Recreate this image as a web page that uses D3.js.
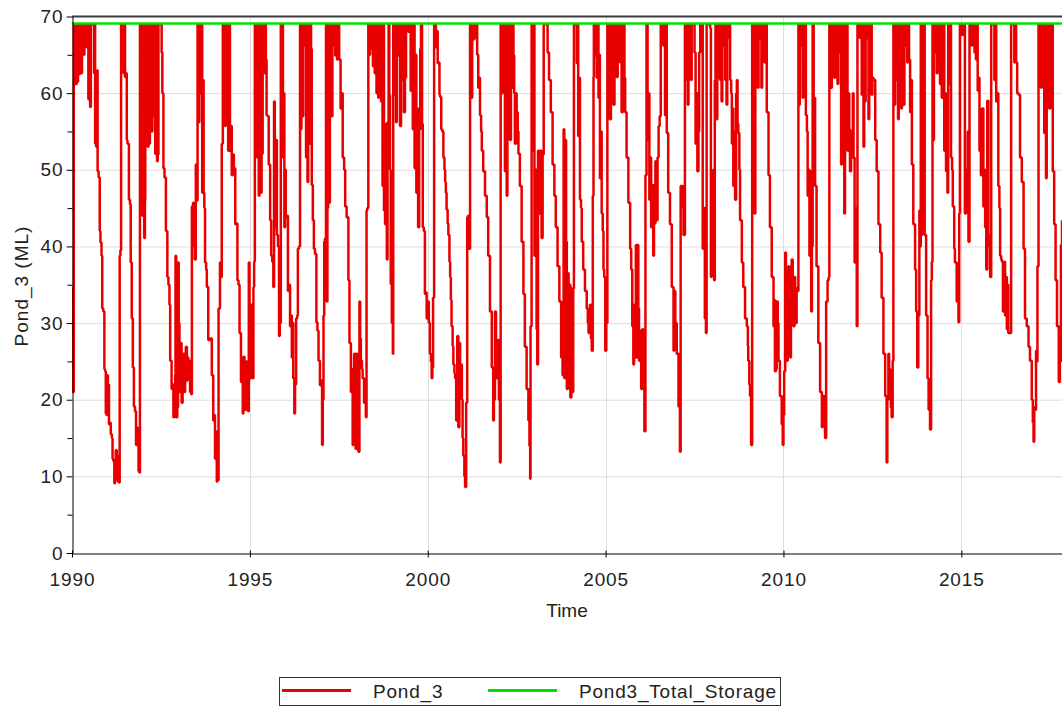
<!DOCTYPE html>
<html>
<head>
<meta charset="utf-8">
<script src="https://cdn.jsdelivr.net/npm/d3@7"></script>
<style>
    body { margin: 0; background: #fff; }
    text { font-family: "Liberation Sans", Arial, sans-serif; fill: #222; }
</style>
</head>
<body>
<svg id="chart" width="1062" height="709"></svg>
<script>
    // Pond_3 storage (ML), [decimal year, value]
    var pond3Block1 = [ // 1990 - 1992
        [1990.00,34.5],[1990.01,29.8],[1990.02,21.0],[1990.04,21.0],[1990.05,69],
        [1990.07,61.2],[1990.09,69],[1990.11,61.2],[1990.13,69],[1990.15,61.5],[1990.17,69],
        [1990.19,67.5],[1990.21,62.5],[1990.23,69],[1990.25,64.9],[1990.27,62.6],[1990.28,69],
        [1990.31,69],[1990.33,65.0],[1990.35,69],[1990.38,69],[1990.41,66.0],[1990.43,69],
        [1990.46,59.2],[1990.48,69],[1990.51,58.2],[1990.53,69],[1990.57,69],
        [1990.60,69],[1990.62,62.6],[1990.64,69],[1990.65,53.4],[1990.68,53.0],[1990.71,63.0],[1990.72,49.8],
        [1990.75,49.0],[1990.78,42.0],[1990.80,40.5],[1990.83,38.8],[1990.85,31.9],[1990.88,31.5],[1990.91,24.0],
        [1990.93,23.7],[1990.95,18.2],[1990.97,18.0],[1990.99,23.2],[1991.01,22.0],[1991.04,16.8],[1991.07,17.0],
        [1991.09,15.5],[1991.12,15.0],[1991.14,12.3],[1991.16,12.0],[1991.19,9.1],[1991.21,9.5],[1991.23,13.4],
        [1991.26,12.7],[1991.29,9.3],[1991.32,9.2],[1991.34,38.8],[1991.36,39.5],[1991.38,69],
        [1991.40,66.2],[1991.42,69],[1991.45,62.6],[1991.47,69],[1991.49,62.1],[1991.51,62.6],[1991.54,53.9],
        [1991.56,53.4],[1991.60,46.1],[1991.63,45.5],[1991.65,37.9],[1991.68,30.6],[1991.71,24.2],[1991.74,19.1],
        [1991.77,18.5],[1991.80,14.1],[1991.82,16.4],[1991.84,15.5],[1991.87,10.7],[1991.89,10.5],[1991.91,69],
        [1991.94,44.3],[1991.96,69],[1991.98,44.0],[1992.00,69],[1992.03,41.1],[1992.05,46.0],[1992.06,69],
        [1992.09,58.0],[1992.11,69],[1992.13,53.0],[1992.15,69],[1992.17,53.4],[1992.19,59.0],[1992.21,69],
        [1992.24,55.0],[1992.26,69],[1992.28,58.5],[1992.30,57.0],[1992.32,69],[1992.34,52.1],[1992.36,69],
        [1992.39,51.1],[1992.41,52.0],[1992.43,69],[1992.47,69],[1992.50,69],
        [1992.52,65.3],[1992.54,60.0],[1992.57,50.2],[1992.60,49.0],[1992.64,42.0],[1992.68,36.0],[1992.71,35.0],
        [1992.74,32.4],[1992.76,25.1],[1992.80,21.4],[1992.83,22.0],[1992.85,17.7],[1992.88,18.5],[1992.90,23.2],
        [1992.91,38.8],[1992.93,17.7],[1992.96,19.0],[1992.98,37.9]
    ];
    var pond3Block2 = [ // 1993 - 1995
        [1993.00,30.0],[1993.02,21.0],[1993.04,26.0],[1993.06,27.4],[1993.08,19.6],[1993.11,22.0],[1993.13,26.0],
        [1993.16,21.0],[1993.18,23.7],[1993.20,26.9],[1993.23,22.5],[1993.25,25.5],[1993.27,22.8],[1993.30,25.1],
        [1993.32,21.0],[1993.35,20.7],[1993.37,45.2],[1993.40,45.7],[1993.42,40.0],[1993.45,38.3],[1993.48,50.7],
        [1993.50,46.0],[1993.53,69],
        [1993.56,56.2],[1993.58,69],[1993.61,60.0],[1993.63,69],[1993.66,47.0],[1993.68,61.7],[1993.70,47.0],
        [1993.72,45.0],[1993.74,37.9],[1993.77,37.0],[1993.79,34.7],[1993.83,27.8],[1993.88,28.0],[1993.93,23.2],
        [1993.97,17.3],[1993.99,18.0],[1994.02,12.3],[1994.04,12.7],[1994.07,9.3],[1994.08,15.9],[1994.10,9.5],
        [1994.12,31.9],[1994.16,37.9],[1994.18,36.0],[1994.21,53.4],[1994.24,69],
        [1994.26,61.2],[1994.28,69],[1994.30,55.7],[1994.32,69],[1994.34,57.0],[1994.36,69],[1994.39,52.5],
        [1994.41,69],[1994.44,52.5],[1994.46,55.7],[1994.49,49.3],[1994.52,52.0],[1994.55,50.2],[1994.59,42.9],
        [1994.62,43.0],[1994.65,35.6],[1994.68,35.0],[1994.71,28.7],[1994.75,22.3],[1994.78,25.5],[1994.80,18.2],
        [1994.82,25.6],[1994.85,20.0],[1994.87,18.7],[1994.90,25.0],[1994.93,19.1],[1994.95,18.5],[1994.97,37.9],
        [1994.99,28.0],[1995.01,22.8],[1995.03,32.4],[1995.06,25.0],[1995.08,22.8],[1995.10,34.7],[1995.12,38.0],
        [1995.14,69],
        [1995.16,58.9],[1995.18,69],[1995.20,51.6],[1995.22,69],[1995.25,46.6],[1995.27,52.1],[1995.29,69],
        [1995.31,47.0],[1995.33,52.1],[1995.36,69],[1995.39,69],[1995.41,62.6],[1995.43,69],[1995.45,64.4],
        [1995.47,57.1],[1995.50,57.0],[1995.53,50.7],[1995.57,43.4],[1995.60,38.8],[1995.63,38.0],[1995.66,34.7],
        [1995.68,58.9],[1995.70,42.5],[1995.73,53.9],[1995.76,41.5],[1995.79,40.0],[1995.82,28.3],[1995.84,30.0],
        [1995.87,69]
    ];
    var pond3Block3 = [ // 1996 - 1999
        [1995.89,57.5],[1995.91,69],[1995.93,51.6],[1995.95,60.0],[1995.97,42.5],[1995.99,50.0],[1996.01,43.8],
        [1996.04,44.0],[1996.07,34.2],[1996.10,35.0],[1996.13,29.6],[1996.15,31.0],[1996.18,25.5],[1996.20,30.0],
        [1996.22,22.8],[1996.25,18.2],[1996.27,22.0],[1996.30,30.6],[1996.33,31.0],[1996.35,39.7],[1996.38,40.0],
        [1996.41,69],
        [1996.43,55.3],[1996.45,69],[1996.48,57.0],[1996.50,69],[1996.53,66.2],[1996.55,69],[1996.58,51.6],
        [1996.60,69],[1996.62,48.4],[1996.64,60.0],[1996.67,53.4],[1996.69,69],[1996.72,65.8],[1996.74,48.0],
        [1996.77,43.4],[1996.80,39.7],[1996.83,39.0],[1996.87,30.1],[1996.90,29.0],[1996.93,25.1],[1996.97,21.9],
        [1996.99,22.5],[1997.03,14.1],[1997.05,20.0],[1997.07,31.0],[1997.09,40.6],[1997.11,41.0],[1997.14,69],
        [1997.16,32.8],[1997.18,45.0],[1997.20,69],[1997.23,45.7],[1997.25,57.1],[1997.27,69],[1997.30,57.0],
        [1997.32,69],[1997.35,66.2],[1997.37,69],[1997.40,64.9],[1997.42,69],[1997.45,64.4],[1997.48,69],
        [1997.51,64.4],[1997.55,58.0],[1997.58,60.0],[1997.61,51.6],[1997.65,50.0],[1997.68,45.2],[1997.72,43.8],
        [1997.77,35.6],[1997.80,27.4],[1997.84,21.0],[1997.86,24.0],[1997.89,14.1],[1997.91,16.0],[1997.93,26.0],
        [1997.97,13.6],[1998.00,26.0],[1998.03,20.0],[1998.05,13.2],[1998.08,32.8],[1998.10,28.0],[1998.12,25.1],
        [1998.15,24.0],[1998.17,22.8],[1998.21,19.6],[1998.24,21.0],[1998.26,17.7],[1998.28,44.7],[1998.30,45.0],
        [1998.33,69],
        [1998.36,65.0],[1998.38,69],[1998.41,65.8],[1998.43,69],[1998.46,63.5],[1998.48,69],[1998.51,62.6],
        [1998.53,66.0],[1998.56,60.0],[1998.58,69],[1998.61,59.4],[1998.63,62.0],[1998.66,69],[1998.69,58.9],
        [1998.71,60.0],[1998.73,47.9],[1998.75,69],[1998.77,44.7],[1998.80,42.9],[1998.83,56.0],[1998.85,38.3],
        [1998.87,56.2],[1998.90,69],[1998.92,59.8],[1998.94,50.0],[1998.96,35.1],[1998.99,30.0],[1999.02,26.0],
        [1999.03,69],[1999.06,59.8],[1999.08,69],[1999.11,56.2],[1999.13,69],[1999.16,64.9],[1999.18,69]
    ];
    var pond3Block4 = [ // 1999 - 2002
        [1999.22,55.7],[1999.25,69],[1999.28,61.7],[1999.30,69],[1999.33,57.5],[1999.36,62.0],[1999.39,69],
        [1999.43,69],[1999.45,68.0],[1999.48,69],[1999.52,60.3],[1999.55,69],[1999.58,55.3],[1999.61,69],
        [1999.63,50.2],[1999.66,65.0],[1999.68,47.0],[1999.71,58.0],[1999.73,42.5],[1999.76,55.3],[1999.79,65.8],
        [1999.81,69],[1999.84,56.0],[1999.86,42.5],[1999.89,42.0],[1999.92,33.8],[1999.95,34.0],[1999.97,30.6],
        [2000.00,32.8],[2000.03,30.0],[2000.06,26.0],[2000.09,25.0],[2000.11,22.8],[2000.13,24.2],[2000.15,33.3],
        [2000.18,69],
        [2000.20,69],[2000.23,66.0],[2000.25,68.1],[2000.28,63.9],[2000.30,64.0],[2000.33,59.8],[2000.35,59.5],
        [2000.38,55.3],[2000.41,55.0],[2000.44,51.6],[2000.47,50.0],[2000.49,48.4],[2000.51,47.0],[2000.53,44.8],
        [2000.56,43.0],[2000.58,41.5],[2000.61,38.0],[2000.63,36.0],[2000.65,33.0],[2000.67,29.6],[2000.70,27.0],
        [2000.72,24.6],[2000.75,23.5],[2000.77,22.8],[2000.80,17.3],[2000.83,28.3],[2000.86,16.4],[2000.89,27.4],
        [2000.91,24.0],[2000.93,24.6],[2000.96,20.0],[2000.98,15.0],[2001.00,12.7],[2001.03,10.0],[2001.05,8.6],
        [2001.08,19.6],[2001.11,43.8],[2001.13,44.0],[2001.16,39.7],[2001.19,69],
        [2001.21,69],[2001.23,59.4],[2001.25,69],[2001.28,67.0],[2001.30,69],[2001.33,67.2],[2001.36,69],
        [2001.39,65.0],[2001.42,60.7],[2001.45,62.0],[2001.47,57.1],[2001.50,55.0],[2001.52,52.5],[2001.56,49.8],
        [2001.61,46.6],[2001.66,43.8],[2001.70,38.8],[2001.75,31.5],[2001.80,24.2],[2001.84,17.3],[2001.86,20.0],
        [2001.89,31.5],[2001.92,25.0],[2001.94,22.8],[2001.97,27.8],[2002.00,20.0],[2002.03,11.8],[2002.05,69],
        [2002.08,60.0],[2002.10,69],[2002.13,60.7],[2002.15,69],[2002.17,49.8],[2002.19,60.0],[2002.22,46.6],
        [2002.24,69],[2002.27,60.0],[2002.29,69],[2002.31,53.9],[2002.34,69],[2002.36,60.7],[2002.38,69],
        [2002.41,64.9],[2002.43,60.0],[2002.45,53.4],[2002.48,60.0],[2002.50,57.5],[2002.53,55.0],[2002.55,52.1],
        [2002.59,47.9],[2002.64,40.6],[2002.69,33.8],[2002.73,26.9],[2002.78,21.4],[2002.83,17.3],[2002.86,14.0],
        [2002.88,9.7],[2002.89,29.6],[2002.92,69]
    ];
    var pond3Block5 = [ // 2003 - 2006
        [2002.95,52.5],[2002.97,69],[2003.00,38.8],[2003.03,50.0],[2003.06,29.2],[2003.08,24.6],[2003.10,52.5],
        [2003.13,44.3],[2003.16,52.5],[2003.20,41.1],[2003.23,52.0],[2003.26,69],[2003.34,69],[2003.37,65.3],
        [2003.41,61.7],[2003.46,57.5],[2003.51,50.7],[2003.56,46.6],[2003.60,42.5],[2003.65,37.4],[2003.70,32.8],
        [2003.75,25.5],[2003.79,23.2],[2003.82,55.3],[2003.84,22.8],[2003.86,53.9],[2003.89,40.6],[2003.91,21.4],
        [2003.94,36.5],[2003.96,22.3],[2003.99,35.0],[2004.01,20.3],[2004.04,34.5],[2004.06,21.0],[2004.09,34.5],
        [2004.11,69],[2004.15,69],[2004.19,63.9],[2004.21,69],[2004.23,54.4],[2004.26,62.0],[2004.28,46.1],
        [2004.31,45.0],[2004.33,40.6],[2004.37,37.0],[2004.42,34.2],[2004.47,31.9],[2004.50,30.0],[2004.52,28.7],
        [2004.56,32.4],[2004.59,28.0],[2004.61,26.4],[2004.64,46.6],[2004.66,62.1],[2004.67,69],
        [2004.70,64.9],[2004.72,69],[2004.75,62.0],[2004.77,69],[2004.80,59.4],[2004.82,65.0],[2004.84,48.9],
        [2004.87,55.0],[2004.89,44.3],[2004.92,42.0],[2004.94,37.0],[2004.96,36.0],[2004.99,26.4],[2005.02,30.0],
        [2005.05,69],
        [2005.08,60.0],[2005.10,69],[2005.12,56.6],[2005.15,69],[2005.17,66.2],[2005.20,69],[2005.22,58.5],
        [2005.25,69],[2005.29,69],[2005.31,62.1],[2005.34,69],[2005.36,68.1],[2005.38,69],[2005.41,64.0],
        [2005.43,69],[2005.45,57.5],[2005.48,69],[2005.50,69],[2005.53,62.0],[2005.55,57.5],[2005.59,51.6],
        [2005.64,45.7],[2005.69,39.7],[2005.72,37.0],[2005.75,29.6],[2005.78,24.6],[2005.80,32.4],[2005.83,25.5],
        [2005.85,40.2],[2005.87,25.5],[2005.89,40.2],[2005.92,31.9],[2005.94,25.1],[2005.97,29.0],[2006.00,21.4],
        [2006.03,29.2],[2006.06,22.0],[2006.09,15.9],[2006.12,49.3],[2006.15,69]
    ];
    var pond3Block6 = [ // 2006 - 2009
        [2006.18,53.9],[2006.21,60.0],[2006.23,46.1],[2006.26,51.6],[2006.28,42.5],[2006.31,48.0],[2006.34,38.8],
        [2006.36,47.0],[2006.38,43.0],[2006.40,51.1],[2006.43,43.4],[2006.46,51.6],[2006.49,55.7],[2006.52,57.0],
        [2006.55,69],[2006.59,69],[2006.62,66.2],[2006.64,69],[2006.67,57.1],[2006.69,69],[2006.72,54.8],
        [2006.76,47.0],[2006.81,42.9],[2006.86,34.7],[2006.91,26.4],[2006.93,34.2],[2006.96,30.0],[2007.00,26.0],
        [2007.05,19.1],[2007.09,13.2],[2007.11,47.9],[2007.14,47.9],[2007.17,45.0],[2007.19,41.5],[2007.23,69],
        [2007.26,61.7],[2007.28,69],[2007.31,58.5],[2007.33,69],[2007.35,66.2],[2007.37,69],[2007.40,61.7],
        [2007.42,69],[2007.47,69],[2007.50,65.3],[2007.53,53.4],[2007.55,60.0],[2007.58,49.8],[2007.61,55.0],
        [2007.63,65.3],[2007.66,69],[2007.70,69],[2007.73,39.7],[2007.76,45.0],[2007.79,30.6],[2007.82,28.7],
        [2007.84,69],[2007.92,69],[2007.94,68.5],[2007.96,36.0],[2007.98,36.5],[2008.01,43.4],[2008.03,50.0],
        [2008.05,35.6],[2008.07,61.7],[2008.09,69],[2008.12,56.6],[2008.14,62.0],[2008.17,69],[2008.20,62.0],
        [2008.22,61.7],[2008.24,69],[2008.26,58.9],[2008.28,69],[2008.31,66.2],[2008.33,69],[2008.36,61.7],
        [2008.38,65.0],[2008.40,58.5],[2008.42,69],[2008.45,67.2],[2008.48,69],[2008.50,61.7],[2008.53,60.0],
        [2008.55,53.4],[2008.57,58.0],[2008.59,47.9],[2008.62,55.0],[2008.64,46.1],[2008.67,60.0],[2008.69,61.7],
        [2008.71,56.0],[2008.73,54.8],[2008.76,50.0],[2008.78,43.4],[2008.83,37.9],[2008.87,34.7],[2008.92,30.6],
        [2008.97,29.6],[2009.00,27.0],[2009.01,25.1],[2009.04,22.0],[2009.06,20.5],[2009.09,14.1],[2009.12,69]
    ];
    var pond3Block7 = [ // 2009 - 2012
        [2009.14,49.8],[2009.16,69],[2009.18,44.3],[2009.21,69],[2009.25,69],[2009.28,60.7],[2009.30,69],
        [2009.33,67.2],[2009.35,69],[2009.38,60.7],[2009.40,69],[2009.44,69],[2009.47,64.0],[2009.50,69],
        [2009.53,57.5],[2009.58,49.3],[2009.62,42.5],[2009.67,36.0],[2009.72,29.6],[2009.74,33.0],[2009.76,23.7],
        [2009.79,24.0],[2009.81,32.8],[2009.84,30.0],[2009.86,25.1],[2009.90,20.5],[2009.95,16.8],[2009.98,14.1],
        [2010.00,18.0],[2010.02,23.7],[2010.05,39.2],[2010.07,30.0],[2010.09,25.1],[2010.12,30.0],[2010.14,37.4],
        [2010.16,30.0],[2010.19,25.5],[2010.21,30.0],[2010.23,38.3],[2010.26,34.0],[2010.28,29.6],[2010.31,36.0],
        [2010.33,34.7],[2010.35,30.0],[2010.37,34.2],[2010.42,69],
        [2010.44,58.5],[2010.46,69],[2010.49,66.2],[2010.51,69],[2010.54,59.4],[2010.56,69],[2010.61,69],
        [2010.63,57.1],[2010.66,55.0],[2010.68,46.6],[2010.70,50.0],[2010.73,38.8],[2010.75,49.8],[2010.78,31.5],
        [2010.80,40.0],[2010.82,69],[2010.85,59.4],[2010.89,47.9],[2010.93,37.4],[2010.98,27.4],[2011.03,21.0],
        [2011.08,16.4],[2011.10,17.0],[2011.12,20.5],[2011.15,18.0],[2011.17,15.0],[2011.20,32.8],[2011.24,35.6],
        [2011.27,36.0],[2011.29,69],
        [2011.31,69],[2011.34,60.7],[2011.36,69],[2011.38,66.2],[2011.40,69],[2011.43,62.0],[2011.45,69],
        [2011.48,67.2],[2011.50,69],[2011.52,61.2],[2011.54,69],[2011.57,65.3],[2011.59,69],[2011.62,50.7],
        [2011.64,60.0],[2011.66,56.2],[2011.68,69],[2011.71,44.3],[2011.73,60.0],[2011.75,65.3],[2011.78,69],
        [2011.80,52.5],[2011.83,60.0],[2011.85,55.3],[2011.87,49.8],[2011.90,55.0],[2011.92,51.6],[2011.95,60.0],
        [2011.97,51.6],[2012.00,37.9],[2012.03,45.0],[2012.06,29.6],[2012.08,69]
    ];
    var pond3Block8 = [ // 2012 - 2014
        [2012.13,69],[2012.15,67.2],[2012.17,69],[2012.20,59.8],[2012.22,65.0],[2012.25,53.0],[2012.27,69],
        [2012.29,58.9],[2012.31,69],[2012.34,67.2],[2012.36,69],[2012.39,56.6],[2012.41,69],[2012.43,66.2],
        [2012.45,69],[2012.48,59.8],[2012.50,62.0],[2012.53,61.7],[2012.58,53.9],[2012.62,49.8],[2012.67,42.9],
        [2012.72,39.2],[2012.76,33.3],[2012.81,26.0],[2012.86,20.5],[2012.90,11.8],[2012.92,20.0],[2012.95,26.0],
        [2012.97,24.0],[2013.00,22.3],[2013.02,19.0],[2013.04,17.7],[2013.07,25.1],[2013.09,69],
        [2013.12,58.5],[2013.14,69],[2013.17,61.7],[2013.19,69],[2013.22,56.6],[2013.24,69],[2013.27,66.2],
        [2013.29,69],[2013.31,58.0],[2013.33,64.4],[2013.35,69],[2013.38,58.5],[2013.40,69],[2013.42,66.2],
        [2013.44,69],[2013.48,64.0],[2013.50,69],[2013.53,64.4],[2013.56,57.5],[2013.58,61.7],[2013.61,50.7],
        [2013.65,42.9],[2013.70,37.0],[2013.73,31.5],[2013.76,24.2],[2013.79,31.0],[2013.82,44.7],[2013.84,40.0],
        [2013.86,69],[2013.88,41.5],[2013.90,50.0],[2013.93,54.3],[2013.95,69],[2013.97,41.5],[2014.01,31.0],
        [2014.05,22.8],[2014.08,18.7],[2014.12,16.1],[2014.15,35.6],[2014.17,38.0],[2014.19,69]
    ];
    var pond3Block9 = [ // 2014 - 2017
        [2014.21,53.9],[2014.23,69],[2014.26,65.3],[2014.28,69],[2014.31,62.6],[2014.33,69],[2014.37,69],
        [2014.40,61.2],[2014.42,69],[2014.45,59.4],[2014.47,69],[2014.50,69],[2014.52,52.5],[2014.55,60.0],
        [2014.57,49.8],[2014.59,55.0],[2014.61,47.0],[2014.63,69],[2014.66,61.2],[2014.68,69],[2014.71,51.6],
        [2014.74,50.0],[2014.76,45.2],[2014.80,39.7],[2014.82,37.9],[2014.87,32.8],[2014.92,30.1],[2014.94,44.3],
        [2014.96,69],[2015.00,69],[2015.02,67.6],[2015.04,69],[2015.08,69],[2015.10,44.3],[2015.13,50.0],
        [2015.15,46.6],[2015.18,55.0],[2015.20,40.6],[2015.23,69],[2015.27,69],[2015.29,66.2],[2015.31,69],
        [2015.34,69],[2015.37,65.3],[2015.39,69],[2015.41,64.4],[2015.43,69],[2015.46,60.3],[2015.48,62.0],
        [2015.51,52.5],[2015.55,49.3],[2015.58,58.0],[2015.62,45.2],[2015.65,50.0],[2015.67,42.5],[2015.70,37.0],
        [2015.73,59.0],[2015.76,41.5],[2015.79,40.0],[2015.81,36.0],[2015.84,69],
        [2015.86,69],[2015.90,69],[2015.93,61.7],[2015.95,69],[2015.98,58.9],[2016.01,60.0],[2016.04,47.9],
        [2016.07,45.0],[2016.09,38.8],[2016.12,38.3],[2016.14,38.0],[2016.17,31.5],[2016.20,38.0],[2016.23,31.0],
        [2016.25,36.0],[2016.28,29.2],[2016.30,35.0],[2016.32,28.7],[2016.37,28.7],[2016.40,69],[2016.46,69],
        [2016.49,64.0],[2016.51,69],[2016.54,64.0],[2016.57,60.0],[2016.61,59.8],[2016.65,51.6],[2016.70,48.4],
        [2016.75,39.7],[2016.79,30.6],[2016.84,29.6],[2016.89,26.9],[2016.93,25.1],[2016.98,20.0],[2017.01,17.0],
        [2017.03,14.5],[2017.05,19.0],[2017.07,18.7],[2017.10,26.4],[2017.12,25.0],[2017.14,37.4],[2017.17,69],
        [2017.21,69],[2017.24,60.7],[2017.26,69],[2017.31,69],[2017.33,54.8],[2017.36,60.0],[2017.38,48.9],
        [2017.40,69],[2017.43,62.1],[2017.45,69],[2017.47,58.0],[2017.50,69],[2017.52,63.5],[2017.55,69],
        [2017.57,49.8],[2017.61,42.9],[2017.65,35.6],[2017.69,29.6],[2017.74,22.3],[2017.77,25.0],[2017.80,40.2],
        [2017.83,43.4]
    ];

    var totalStorage = 69.1;                       // Pond3_Total_Storage, constant
    var timeRange = [1990, 2017.83];
    var yearTicks = [1990, 1995, 2000, 2005, 2010, 2015];
    var storageTicks = [0, 10, 20, 30, 40, 50, 60, 70];
    var storageMinorTicks = [5, 15, 25, 35, 45, 55, 65];
    var seriesNames = ['Pond_3', 'Pond3_Total_Storage'];
    var seriesColors = ['#e80000', '#00e000'];

    var pond3 = [].concat(pond3Block1, pond3Block2, pond3Block3, pond3Block4, pond3Block5,
        pond3Block6, pond3Block7, pond3Block8, pond3Block9);

    var svg = d3.select('#chart');
    var plot = { left: 72, right: 1062, top: 16.5, bottom: 553 };

    var x = d3.scaleLinear().domain(timeRange).range([plot.left, plot.right]);
    var y = d3.scaleLinear().domain([0, 70]).range([plot.bottom, plot.top]);

    svg.append('defs').append('clipPath').attr('id', 'plot-clip')
        .append('rect')
        .attr('x', plot.left).attr('y', plot.top - 2)
        .attr('width', plot.right - plot.left).attr('height', plot.bottom - plot.top + 2);

    // grid
    var grid = svg.append('g').attr('class', 'grid');
    grid.selectAll('line.h').data(storageTicks.filter(function(d) { return d > 0 && d < 70; }))
        .enter().append('line')
        .attr('x1', plot.left).attr('x2', plot.right)
        .attr('y1', function(d) { return y(d) + 0.5; }).attr('y2', function(d) { return y(d) + 0.5; })
        .attr('stroke', '#dedede').attr('stroke-width', 1);
    grid.selectAll('line.v').data(yearTicks.slice(1))
        .enter().append('line')
        .attr('x1', function(d) { return Math.round(x(d)) + 0.5; })
        .attr('x2', function(d) { return Math.round(x(d)) + 0.5; })
        .attr('y1', plot.top).attr('y2', plot.bottom)
        .attr('stroke', '#dedede').attr('stroke-width', 1);

    // top frame line
    svg.append('line')
        .attr('x1', plot.left).attr('x2', plot.right)
        .attr('y1', plot.top).attr('y2', plot.top)
        .attr('stroke', '#3c3c3c').attr('stroke-width', 2);

    // series (stepped, like the daily model output)
    var line = d3.line()
        .curve(d3.curveStepAfter)
        .x(function(d) { return x(d[0]); })
        .y(function(d) { return y(d[1]); });

    var series = svg.append('g').attr('clip-path', 'url(#plot-clip)');
    series.append('path')
        .datum(pond3)
        .attr('d', line)
        .attr('fill', 'none')
        .attr('stroke', seriesColors[0])
        .attr('stroke-width', 2.5)
        .attr('stroke-linejoin', 'bevel');

    series.append('path')
        .datum([[timeRange[0], totalStorage], [timeRange[1], totalStorage]])
        .attr('d', line)
        .attr('fill', 'none')
        .attr('stroke', seriesColors[1])
        .attr('stroke-width', 2.5);

    // axes
    svg.append('g')
        .attr('transform', 'translate(' + (plot.left + 0.5) + ',0)')
        .call(d3.axisLeft(y).tickValues(storageTicks).tickSizeInner(6).tickSizeOuter(0)
            .tickPadding(3).tickFormat(d3.format('d')));
    svg.append('g')
        .attr('transform', 'translate(' + (plot.left + 0.5) + ',0)')
        .call(d3.axisLeft(y).tickValues(storageMinorTicks).tickSizeInner(5).tickSizeOuter(0)
            .tickFormat(''))
        .select('.domain').remove();

    var xAxis = svg.append('g')
        .attr('transform', 'translate(0,' + (plot.bottom + 0.5) + ')')
        .call(d3.axisBottom(x).tickValues(yearTicks).tickSizeInner(4).tickSizeOuter(0)
            .tickPadding(15).tickFormat(d3.format('d')));
    xAxis.selectAll('.tick line').attr('y1', -3);

    svg.selectAll('.tick text')
        .style('font-size', '19px')
        .style('letter-spacing', '0.9px')
        .style('font-family', '"Liberation Sans", Arial, sans-serif')
        .attr('fill', '#222');
    svg.selectAll('.domain, .tick line').attr('stroke', '#000');

    // axis titles
    svg.append('text')
        .attr('x', 567).attr('y', 617)
        .attr('text-anchor', 'middle')
        .style('font-size', '19px')
        .text('Time');
    svg.append('text')
        .attr('transform', 'translate(28,286) rotate(-90)')
        .attr('text-anchor', 'middle')
        .style('font-size', '19px')
        .style('letter-spacing', '1px')
        .text('Pond_3 (ML)');

    // legend
    var legend = svg.append('g').attr('class', 'legend');
    legend.append('rect')
        .attr('x', 279.5).attr('y', 677.5)
        .attr('width', 501).attr('height', 28)
        .attr('fill', '#fff').attr('stroke', '#333').attr('stroke-width', 1);
    var legendX = [282, 488];
    seriesNames.forEach(function(name, i) {
        legend.append('line')
            .attr('x1', legendX[i]).attr('x2', legendX[i] + 69)
            .attr('y1', 690.5).attr('y2', 690.5)
            .attr('stroke', seriesColors[i]).attr('stroke-width', 3);
        legend.append('text')
            .attr('x', legendX[i] + 91).attr('y', 697.5)
            .style('font-size', '19px')
            .style('letter-spacing', '0.8px')
            .text(name);
    });
</script>
</body>
</html>
